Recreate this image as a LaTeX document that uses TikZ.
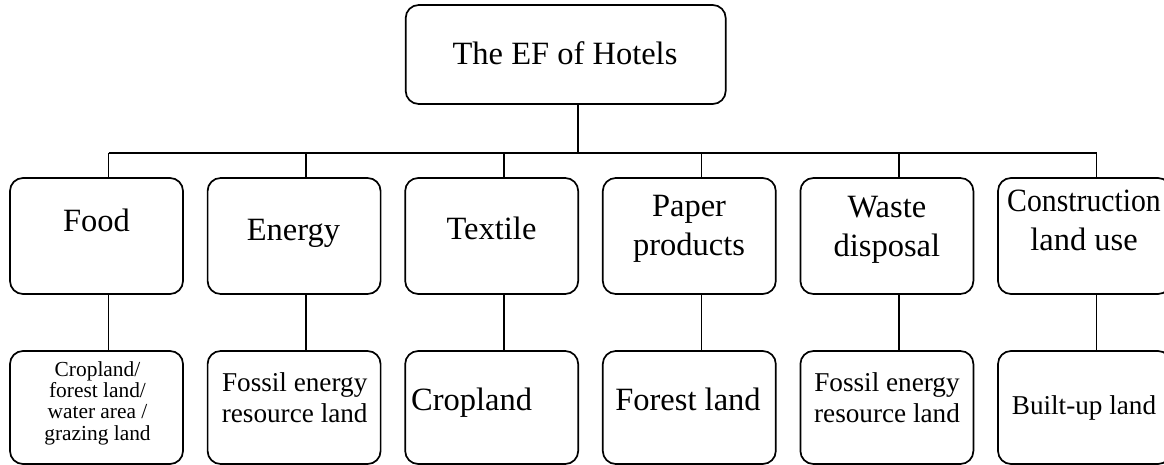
\documentclass[tikz,border=0pt]{standalone}
\usepackage{fontspec}
\setmainfont{Liberation Serif}
\usepackage{graphicx}
\begin{document}
\begin{tikzpicture}[x=1pt,y=-1pt,
  box/.style={draw, line width=1.7pt, rounded corners=13pt, inner sep=0pt, minimum width=173pt},
  midbox/.style={box, minimum height=116pt},
  lowbox/.style={box, minimum height=113pt},
  link/.style={line width=1.6pt},
  lbl/.style={anchor=base, inner sep=0pt, align=center},
  big/.style={font=\fontsize{32.5}{38.3}\selectfont},
  mid/.style={font=\fontsize{27.2}{31}\selectfont},
  small/.style={font=\fontsize{21.4}{21.1}\selectfont}]
\useasboundingbox (0,0) rectangle (1164,465);

% boxes
\node[box, minimum width=320pt, minimum height=99pt] (top) at (565.7,54.5) {};
\node[midbox] (food)   at (96.5,236) {};
\node[midbox] (energy) at (294.1,236) {};
\node[midbox] (text)   at (491.7,236) {};
\node[midbox] (paper)  at (689.3,236) {};
\node[midbox] (waste)  at (886.9,236) {};
\node[midbox] (constr) at (1084.5,236) {};

\node[lowbox] (foodL)   at (96.5,407.5) {};
\node[lowbox] (energyL) at (294.1,407.5) {};
\node[lowbox] (textL)   at (491.7,407.5) {};
\node[lowbox] (paperL)  at (689.3,407.5) {};
\node[lowbox] (wasteL)  at (886.9,407.5) {};
\node[lowbox] (constrL) at (1084.5,407.5) {};

% labels (base = baseline of the last line)
\node[lbl, big] (topT) at (565,65) {The EF of Hotels};
\node[lbl, big] (foodT) at (96.5,231) {Food};
\node[lbl, big] (energyT) at (293.5,240.5) {Energy};
\node[lbl, big] (textT) at (491.5,240) {Textile};
\node[lbl, big] (paperT) at (689,255) {Paper\\products};
\node[lbl, big] (wasteT) at (886.9,256) {Waste\\disposal};
\node[lbl, big] (constrT) at (1084,250) {\scalebox{0.915}[1]{Construction}\\land use};

\node[lbl, small] (foodLT) at (97.5,440) {Cropland/\\forest land/\\water area /\\grazing land};
\node[lbl, mid] (energyLT) at (294.7,422.7) {Fossil energy\\resource land};
\node[lbl, big, anchor=base west] (textLT) at (411,410.7) {Cropland};
\node[lbl, big] (paperLT) at (688,410) {Forest land};
\node[lbl, mid] (wasteLT) at (887,422.5) {Fossil energy\\resource land};
\node[lbl, mid] (constrLT) at (1084,414) {Built-up land};

% connector points on the bus
\coordinate (hub) at (578,153);
\coordinate (c1) at (108.5,153);
\coordinate (c2) at (306.1,153);
\coordinate (c3) at (503.7,153);
\coordinate (c4) at (701.3,153);
\coordinate (c5) at (898.9,153);
\coordinate (c6) at (1096.5,153);

\draw[link] (top.south -| hub) -- (hub);
\draw[link] (c1) -- (c6);
\foreach \c/\m/\l in {c1/food/foodL, c2/energy/energyL, c3/text/textL, c4/paper/paperL, c5/waste/wasteL, c6/constr/constrL}{
  \draw[link] (\c) -- (\c |- \m.north);
  \draw[link] (\c |- \m.south) -- (\c |- \l.north);
}
\end{tikzpicture}
\end{document}
